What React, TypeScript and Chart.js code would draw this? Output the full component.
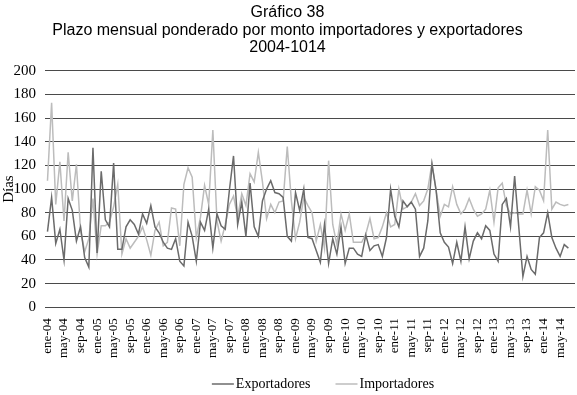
import React, { useEffect, useRef } from "react";
import { Chart, registerables } from "chart.js";

Chart.register(...registerables);

const meses = ["ene", "feb", "mar", "abr", "may", "jun", "jul", "ago", "sep", "oct", "nov", "dic"];
const anios = ["04", "05", "06", "07", "08", "09", "10", "11", "12", "13", "14"];

const exportadores = [
  64, 93, 54, 66, 40, 92, 82, 56, 68, 42, 34, 135, 46, 115, 74, 68, 122, 49, 49, 68,
  74, 70, 62, 79, 71, 86, 68, 63, 55, 50, 49, 58, 39, 35, 72, 60, 39,
  72, 65, 83, 50, 79, 69, 66, 99, 128, 70, 89, 60,
  105, 68, 60, 90, 100, 107, 97, 96, 93, 60, 56, 97, 82, 100, 59, 58, 48, 38, 70, 37, 58, 45, 68, 37, 50, 50,
  45, 43, 61, 48, 52, 53, 43, 59, 100, 77, 68, 90, 85, 89, 83, 43, 50, 73, 121, 99, 63, 55, 51, 37, 55,
  39, 68, 41, 56, 63, 58, 69, 65, 45, 39, 87, 92, 68, 111, 68, 26, 43, 32, 28, 59, 63, 80, 59, 50, 43, 53, 50,
];

const importadores = [
  107, 173, 87, 123, 73, 131, 90, 121, 65, 47, 58, 92, 45, 69, 69, 72, 85, 104, 45, 58, 50, 55, 60, 68,
  57, 44, 65, 72, 52, 55, 84, 83, 52, 104, 118, 110, 59,
  76, 103, 87, 150, 73, 56, 70, 87, 94, 76, 96, 86,
  113, 106, 131, 106, 75, 87, 80, 89, 90, 136, 90, 58, 72, 93, 86, 80, 56, 70, 50, 124, 70, 53, 79, 65, 79, 55,
  55, 55, 62, 75, 58, 59, 68, 80, 68, 70, 100, 83, 85, 89, 96, 86, 90, 100, 122, 99, 77, 87, 85, 102, 87,
  79, 83, 92, 83, 77, 79, 83, 99, 72, 101, 105, 86, 79, 80, 79, 79, 99, 79, 102, 99, 90, 150, 83, 89, 87, 86, 87,
];

const etiquetas: string[] = [];
for (const a of anios) for (const m of meses) etiquetas.push(`${m}-${a}`);

const tituloLineas = [
  "Gráfico 38",
  "Plazo mensual ponderado por monto importadores y exportadores",
  "2004-1014",
];

const serif = "'Liberation Serif', 'Times New Roman', serif";
const sans = "'Liberation Sans', Arial, sans-serif";

const leyendaPlugin = {
  id: "leyendaLinea",
  afterDraw(chart: any) {
    const ctx = chart.ctx;
    const items = chart.data.datasets.map((d: any) => ({ text: d.label, color: d.borderColor }));
    ctx.save();
    ctx.font = `14px ${serif}`;
    const lineW = 22;
    const gapTxt = 2;
    const gapItem = 25;
    let total = 0;
    items.forEach((it: any, i: number) => {
      total += lineW + gapTxt + ctx.measureText(it.text).width + (i < items.length - 1 ? gapItem : 0);
    });
    const cx = (chart.chartArea.left + chart.chartArea.right) / 2 + 13;
    let x = cx - total / 2;
    const y = chart.height - 11;
    ctx.textBaseline = "middle";
    ctx.textAlign = "left";
    items.forEach((it: any) => {
      ctx.strokeStyle = it.color;
      ctx.lineWidth = 1.5;
      ctx.beginPath();
      ctx.moveTo(x, y);
      ctx.lineTo(x + lineW, y);
      ctx.stroke();
      x += lineW + gapTxt;
      ctx.fillStyle = "#000";
      ctx.fillText(it.text, x, y);
      x += ctx.measureText(it.text).width + gapItem;
    });
    ctx.restore();
  },
};

export default function App() {
  const ref = useRef<HTMLCanvasElement>(null);
  useEffect(() => {
    if (!ref.current) return;
    const chart = new Chart(ref.current, {
      type: "line",
      data: {
        datasets: [
          {
            label: "Exportadores",
            data: exportadores.map((v, i) => ({ x: i, y: v })),
            borderColor: "#6b6b6b",
            backgroundColor: "#6b6b6b",
            borderWidth: 1.5,
            pointRadius: 0,
            tension: 0,
          },
          {
            label: "Importadores",
            data: importadores.map((v, i) => ({ x: i, y: v })),
            borderColor: "#bcbcbc",
            backgroundColor: "#bcbcbc",
            borderWidth: 1.5,
            pointRadius: 0,
            tension: 0,
          },
        ],
      },
      plugins: [leyendaPlugin],
      options: {
        animation: false,
        responsive: false,
        maintainAspectRatio: false,
        layout: { padding: { left: 0, right: 2, top: 0, bottom: 26 } },
        plugins: {
          title: {
            display: true,
            text: tituloLineas,
            color: "#000",
            font: { family: sans, size: 16, weight: "normal", lineHeight: 1.1 },
            padding: { top: 4, bottom: 14 },
          },
          legend: { display: false },
          tooltip: { enabled: false },
        },
        scales: {
          x: {
            type: "linear",
            min: -0.6,
            max: 127.6,
            afterBuildTicks: (scale: any) => {
              const t: any[] = [];
              for (let i = 0; i <= 124; i += 4) t.push({ value: i });
              scale.ticks = t;
            },
            afterFit: (scale: any) => {
              scale.paddingLeft = 0;
              scale.paddingRight = 0;
            },
            ticks: {
              autoSkip: false,
              maxRotation: 90,
              minRotation: 90,
              color: "#000",
              padding: 11,
              font: { family: serif, size: 13 },
              callback: (v: any) => etiquetas[Math.round(Number(v))] ?? "",
            },
            grid: { display: false, drawTicks: false },
            border: { display: false },
          },
          y: {
            min: 0,
            max: 200,
            afterFit: (scale: any) => {
              scale.width = 45;
            },
            ticks: {
              stepSize: 20,
              color: "#000",
              padding: 9,
              font: { family: serif, size: 15 },
            },
            grid: { color: "#4a4a4a", lineWidth: 1, drawTicks: false },
            border: { display: false },
            title: {
              display: true,
              text: "Días",
              color: "#000",
              font: { family: serif, size: 15 },
              padding: { top: 0, bottom: 0 },
            },
          },
        },
      },
    });
    return () => chart.destroy();
  }, []);
  return (
    <div style={{ position: "fixed", left: 0, top: 0, width: 577, height: 395, background: "#fff" }}>
      <canvas ref={ref} width={577} height={395} style={{ width: 577, height: 395 }} />
    </div>
  );
}
